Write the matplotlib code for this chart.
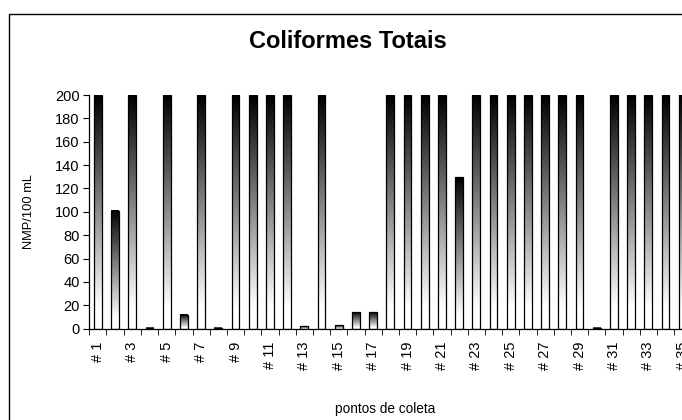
import matplotlib

matplotlib.use("Agg")
import numpy as np  # noqa: E402
from matplotlib import pyplot as plt  # noqa: E402
from matplotlib.patches import Rectangle  # noqa: E402

plt.rcParams["font.family"] = ["Liberation Sans", "DejaVu Sans"]

# sampling points and total coliform counts (NMP/100 mL), 200 = upper limit
points = [f"# {i}" for i in range(1, 36)]
coliforms = [
    200, 101, 200, 1, 200, 12, 200, 1, 200, 200,
    200, 200, 2, 200, 3, 14, 14, 200, 200, 200,
    200, 130, 200, 200, 200, 200, 200, 200, 200, 1,
    200, 200, 200, 200, 200,
]
y_ticks = list(range(0, 201, 20))

BAR_WIDTH = 0.46

fig = plt.figure(figsize=(6.82, 4.2), dpi=100)
# chart frame; its right and bottom edges run past the canvas
fig.patches.append(
    Rectangle(
        (8.5 / 682, -0.5), 2.0, 1.5 - 13.5 / 420,
        transform=fig.transFigure, fill=False, edgecolor="black",
        linewidth=1.0, clip_on=False,
    )
)
ax = fig.add_axes([89.3 / 682, (420 - 328.7) / 420, 602 / 682, 233.7 / 420])

# vertical black-to-white shading, one strip per bar (row 0 = bottom)
shade = np.clip(np.linspace(1.0, 0.0, 256) * 1.1, 0, 1).reshape(-1, 1)
x = np.arange(len(points))
for xi, value in zip(x, coliforms):
    ax.imshow(
        shade,
        extent=[xi - BAR_WIDTH / 2, xi + BAR_WIDTH / 2, 0, value],
        origin="lower", aspect="auto", cmap="gray", vmin=0, vmax=1,
        interpolation="bilinear", zorder=1,
    )
ax.bar(x, coliforms, width=BAR_WIDTH, facecolor="none",
       edgecolor="black", linewidth=0.9, zorder=2)

ax.set_xlim(-0.5, len(points) - 0.5)
ax.set_ylim(0, 200)
ax.set_yticks(y_ticks)
ax.set_xticks(x[::2], points[::2], rotation=90, va="top", ha="center")
ax.set_xticks(np.arange(len(points) + 1) - 0.5, minor=True)
ax.tick_params(axis="x", which="major", length=0, pad=9, labelsize=10.5)
ax.tick_params(axis="x", which="minor", length=4, direction="out")
ax.tick_params(axis="y", length=4, direction="out", labelsize=10.5, pad=3)

for side in ("top", "right"):
    ax.spines[side].set_visible(False)
for side in ("left", "bottom"):
    ax.spines[side].set_linewidth(0.9)

ax.set_ylabel("NMP/100 mL", fontsize=9.3)
ax.yaxis.set_label_coords(-0.09, 0.5)
ax.set_xlabel("pontos de coleta", fontsize=9.8)
ax.xaxis.set_label_coords(296 / 602, -0.315)

fig.text(348 / 682, 1 - 42 / 420, "Coliformes Totais", ha="center",
         va="center", fontsize=17, fontweight="bold")

fig.savefig("out.png", dpi=100)
